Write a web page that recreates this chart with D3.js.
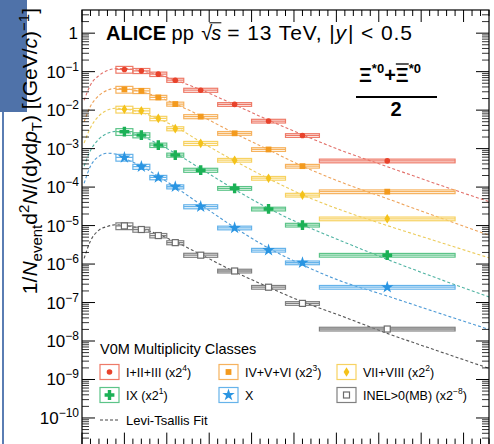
<!DOCTYPE html>
<html><head><meta charset="utf-8">
<script src="https://cdn.jsdelivr.net/npm/d3@7"></script>
<style>
body{margin:0;background:#fff;}
svg{display:block;font-family:"Liberation Sans",Arial,Helvetica,sans-serif;}
svg text{white-space:pre;}
</style>
</head><body>
<svg id="chart" width="494" height="444"></svg>
<script>
// ---------------- DATA ----------------
const binLo     = [0.8, 1.2, 1.6, 2.0, 2.4, 3.2, 4.0, 4.8, 5.6];
const binHi     = [1.2, 1.6, 2.0, 2.4, 3.2, 4.0, 4.8, 5.6, 8.8];
const binCenter = [1.0, 1.4, 1.8, 2.2, 2.8, 3.6, 4.4, 5.2, 7.2];
const sysRel    = [0.20, 0.15, 0.13, 0.12, 0.12, 0.11, 0.11, 0.11, 0.11];

const seriesMain = ["I+II+III (x2", "IV+V+VI (x2", "VII+VIII (x2", "IX (x2", "X", "INEL>0(MB) (x2"];
const seriesSup  = ["4", "3", "2", "1", "", "\u22128"];
const seriesTail = [")", ")", ")", ")", "", ")"];

const ptsI_III    = [0.114, 0.105, 0.086, 0.060, 0.033, 0.0141, 0.0052, 0.0022, 4.8e-4];
const ptsIV_VI    = [0.0345, 0.0317, 0.0214, 0.0144, 0.0068, 0.0025, 9.5e-4, 3.5e-4, 7.6e-5];
const ptsVII_VIII = [0.0105, 0.0096, 0.0061, 0.0033, 0.00137, 5.0e-4, 1.7e-4, 6.2e-5, 1.5e-5];
const ptsIX       = [2.75e-3, 2.24e-3, 1.23e-3, 6.8e-4, 2.75e-4, 9.3e-5, 2.7e-5, 1.03e-5, 1.7e-6];
const ptsX        = [5.9e-4, 3.4e-4, 1.78e-4, 1.02e-4, 3.1e-5, 8.7e-6, 2.3e-6, 1.08e-6, 2.5e-7];
const ptsMB       = [9.8e-6, 7.9e-6, 5.5e-6, 3.6e-6, 1.7e-6, 6.6e-7, 2.5e-7, 9.5e-8, 2.05e-8];

// Levi-Tsallis fit curves
const fitPt       = [0.05, 0.2, 0.4, 0.6, 0.8, 1.0, 1.4, 1.8, 2.2, 2.8, 3.6, 4.4, 5.2, 6.0, 7.2, 8.4, 9.6];
const fitI_III    = [1.8e-2, 4.5e-2, 7.9e-2, 1.07e-1, 1.2e-1, 1.2e-1, 1.05e-1, 8.3e-2, 6.0e-2, 3.4e-2, 1.38e-2, 5.5e-3, 2.3e-3, 1.0e-3, 3.4e-4, 1.17e-4, 4.2e-5];
const fitIV_VI    = [5.0e-3, 1.26e-2, 2.4e-2, 3.3e-2, 3.7e-2, 3.6e-2, 3.0e-2, 2.2e-2, 1.45e-2, 7.1e-3, 2.5e-3, 9.3e-4, 3.5e-4, 1.5e-4, 5.0e-5, 1.66e-5, 5.6e-6];
const fitVII_VIII = [1.4e-3, 3.5e-3, 7.1e-3, 1.0e-2, 1.12e-2, 1.07e-2, 8.7e-3, 6.0e-3, 3.7e-3, 1.5e-3, 4.8e-4, 1.66e-4, 6.3e-5, 2.8e-5, 1.0e-5, 3.8e-6, 1.45e-6];
const fitIX       = [3.5e-4, 8.9e-4, 1.78e-3, 2.5e-3, 2.8e-3, 2.7e-3, 2.1e-3, 1.32e-3, 7.6e-4, 3.0e-4, 8.7e-5, 2.8e-5, 1.05e-5, 4.5e-6, 1.32e-6, 4.2e-7, 1.4e-7];
const fitX        = [1.26e-4, 3.5e-4, 6.3e-4, 7.6e-4, 7.2e-4, 5.6e-4, 3.5e-4, 1.9e-4, 1.0e-4, 3.5e-5, 8.9e-6, 2.6e-6, 9.5e-7, 4.0e-7, 1.48e-7, 5.4e-8, 2.0e-8];
const fitMB       = [1.4e-6, 4.0e-6, 7.6e-6, 9.5e-6, 1.05e-5, 1.0e-5, 8.3e-6, 5.9e-6, 3.8e-6, 1.78e-6, 6.3e-7, 2.5e-7, 1.05e-7, 5.0e-8, 1.58e-8, 5.5e-9, 1.95e-9];

const yTickExps  = [0, -1, -2, -3, -4, -5, -6, -7, -8, -9, -10, -11];
const xMajorTicks = [0, 1, 2, 3, 4, 5, 6, 7, 8, 9];

// ---------------- STYLE ----------------
const markerType = ["circle", "square", "diamond", "cross", "star", "opensquare"];
const markColor  = ["#e8432c", "#f39a1e", "#f4c21a", "#1bb156", "#2a95e2", "#6b6b6b"];
const barColor   = ["#ee7a68", "#f6b25e", "#f7d262", "#5cc488", "#66b3ea", "#808080"];
const fitColor   = ["#e2706a", "#eea35a", "#eccb5a", "#4fb3a2", "#4d9ad6", "#555555"];

const seriesPts = [ptsI_III, ptsIV_VI, ptsVII_VIII, ptsIX, ptsX, ptsMB];
const seriesFit = [fitI_III, fitIV_VI, fitVII_VIII, fitIX, fitX, fitMB];

const W = 494, H = 444;
const pL = 82, pR = 489, pT = 10;
const svg = d3.select("#chart");

// screenshot artefacts (blue frame at left)
svg.append("rect").attr("x", 0).attr("y", 0).attr("width", 27).attr("height", 112).attr("fill", "#4f72a9");
svg.append("rect").attr("x", 2).attr("y", 112).attr("width", 2).attr("height", H - 112).attr("fill", "#5a7db3");

const x = d3.scaleLinear().domain([0, 9.6]).range([pL, pR]);
const y = d3.scaleLog().domain([1.6e-11, 4]).range([448.6, pT]);
const pB = y.range()[0];

const plot = svg.append("g");
const clipId = "clipP";
svg.append("clipPath").attr("id", clipId).append("rect")
  .attr("x", pL).attr("y", pT).attr("width", pR - pL).attr("height", pB - pT);

// ---- rich text helper ----
function rich(parent, runs, o) {
  const outer = parent.append("g");
  const g = outer.append("g");
  let cx = 0;
  runs.forEach(r => {
    const t = g.append("text").attr("x", cx).attr("y", r.dy || 0)
      .attr("xml:space", "preserve")
      .attr("font-size", r.size).attr("font-weight", r.bold ? "bold" : "normal")
      .attr("font-style", r.italic ? "italic" : "normal")
      .attr("letter-spacing", r.ls || 0)
      .attr("fill", o.fill || "#000").text(r.t);
    const w = t.node().getComputedTextLength();
    if (r.over) {
      const oy = (r.dy || 0) - r.size * (r.overH || 0.78);
      g.append("line").attr("x1", cx + (r.overL || 0)).attr("x2", cx + w + (r.overR || 0))
        .attr("y1", oy).attr("y2", oy).attr("stroke", o.fill || "#000").attr("stroke-width", r.overW || 1.2);
    }
    cx += w + (r.kern || 0);
  });
  const shift = o.anchor === "end" ? -cx : o.anchor === "middle" ? -cx / 2 : 0;
  outer.attr("transform", `translate(${o.x},${o.y}) rotate(${o.rotate || 0})`);
  g.attr("transform", `translate(${shift},0)`);
  return cx;
}

// ---- markers ----
function marker(g, type, cx, cy, color, scale) {
  const s = scale || 1;
  const m = g.append("g").attr("transform", `translate(${cx},${cy}) scale(${s})`);
  if (type === "circle") m.append("circle").attr("r", 2.8).attr("fill", color);
  else if (type === "square") m.append("rect").attr("x", -2.9).attr("y", -2.9).attr("width", 5.8).attr("height", 5.8).attr("fill", color);
  else if (type === "diamond") m.append("path").attr("d", "M0,-4.8L2.9,0L0,4.8L-2.9,0Z").attr("fill", color);
  else if (type === "cross") m.append("path").attr("d", "M-1.7,-4.9h3.4v3.2h3.2v3.4h-3.2v3.2h-3.4v-3.2h-3.2v-3.4h3.2Z").attr("fill", color);
  else if (type === "star") m.append("path").attr("d", d3.symbol().type(d3.symbolStar).size(48)()).attr("fill", color);
  else if (type === "opensquare") m.append("rect").attr("x", -3).attr("y", -3).attr("width", 6).attr("height", 6).attr("fill", "#fff").attr("stroke", color).attr("stroke-width", 1.2);
}

// ---- data ----
const dataG = plot.append("g").attr("clip-path", `url(#${clipId})`);
seriesPts.forEach((pts, si) => {
  const g = dataG.append("g");
  const line = d3.line().x(d => x(d[0])).y(d => y(d[1])).curve(d3.curveMonotoneX);
  g.append("path").attr("d", line(fitPt.map((p, i) => [p, seriesFit[si][i]])))
    .attr("fill", "none").attr("stroke", fitColor[si]).attr("stroke-width", 1.1)
    .attr("stroke-dasharray", "3,2.2");
  pts.forEach((v, i) => {
    g.append("rect").attr("x", x(binLo[i])).attr("width", x(binHi[i]) - x(binLo[i]))
      .attr("y", y(v * (1 + sysRel[i]))).attr("height", y(v * (1 - sysRel[i])) - y(v * (1 + sysRel[i])))
      .attr("fill", "none").attr("stroke", barColor[si]).attr("stroke-width", 1.2);
    g.append("line").attr("x1", x(binLo[i])).attr("x2", x(binHi[i])).attr("y1", y(v)).attr("y2", y(v))
      .attr("stroke", barColor[si]).attr("stroke-width", 1.3);
  });
  pts.forEach((v, i) => marker(g, markerType[si], x(binCenter[i]), y(v), markColor[si]));
});

// ---- frame & axes ----
const axG = svg.append("g");
axG.append("rect").attr("x", pL).attr("y", pT).attr("width", pR - pL).attr("height", pB - pT)
  .attr("fill", "none").attr("stroke", "#000").attr("stroke-width", 1.2);

const xMinor = d3.range(0, 9.61, 0.2).filter(v => Math.abs(v - Math.round(v)) > 0.01);
xMajorTicks.forEach(v => {
  axG.append("line").attr("x1", x(v)).attr("x2", x(v)).attr("y1", pT).attr("y2", pT + 12).attr("stroke", "#000");
  axG.append("line").attr("x1", x(v)).attr("x2", x(v)).attr("y1", pB).attr("y2", pB - 16).attr("stroke", "#000");
});
xMinor.forEach(v => {
  axG.append("line").attr("x1", x(v)).attr("x2", x(v)).attr("y1", pT).attr("y2", pT + 6).attr("stroke", "#000");
  axG.append("line").attr("x1", x(v)).attr("x2", x(v)).attr("y1", pB).attr("y2", pB - 10).attr("stroke", "#000");
});

const yMinor = [];
for (let e = -12; e <= 0; e++) for (let k = 2; k <= 9; k++) {
  const v = k * Math.pow(10, e);
  if (v > y.domain()[0] && v < y.domain()[1]) yMinor.push(v);
}
yTickExps.forEach(e => {
  const v = Math.pow(10, e);
  if (v >= y.domain()[0]) {
    axG.append("line").attr("x1", pL).attr("x2", pL + 13).attr("y1", y(v)).attr("y2", y(v)).attr("stroke", "#000");
    axG.append("line").attr("x1", pR).attr("x2", pR - 13).attr("y1", y(v)).attr("y2", y(v)).attr("stroke", "#000");
  }
});
yMinor.forEach(v => {
  axG.append("line").attr("x1", pL).attr("x2", pL + 7).attr("y1", y(v)).attr("y2", y(v)).attr("stroke", "#000").attr("stroke-width", 0.8);
  axG.append("line").attr("x1", pR).attr("x2", pR - 7).attr("y1", y(v)).attr("y2", y(v)).attr("stroke", "#000").attr("stroke-width", 0.8);
});
const yLab = d3.scaleLog().domain([1e-11, 1]).range([y(1e-11), y(1)]);
yTickExps.forEach(e => {
  const py = yLab(Math.pow(10, e)) + 6;
  if (e === 0) rich(svg, [{ t: "1", size: 17 }], { x: 78, y: py, anchor: "end" });
  else rich(svg, [{ t: "10", size: 17 }, { t: "\u2212" + (-e), size: 12, dy: -7 }], { x: 79, y: py, anchor: "end" });
});

rich(svg, [
  { t: "1/", size: 21 }, { t: "N", size: 21, italic: true }, { t: "event", size: 15, dy: 5 },
  { t: "d", size: 21 }, { t: "2", size: 15, dy: -8 }, { t: "N", size: 21, italic: true },
  { t: "/(d", size: 21 }, { t: "y", size: 21, italic: true }, { t: "d", size: 21 }, { t: "p", size: 21, italic: true },
  { t: "T", size: 15, dy: 5 }, { t: ") [(GeV/", size: 21 }, { t: "c", size: 21, italic: true }, { t: ")", size: 21 },
  { t: "\u22121", size: 15, dy: -8 }, { t: "]", size: 21 }
], { x: 37, y: 8, rotate: -90, anchor: "end" });

rich(svg, [
  { t: "ALICE", size: 20, bold: true }, { t: " pp ", size: 20, kern: 2 }, { t: "\u221A", size: 20, kern: -1 },
  { t: "s", size: 20, italic: true, over: true, overH: 0.86, overL: -2, overW: 1, kern: 6 },
  { t: "= 13 TeV, |", size: 21, ls: 0.9 }, { t: "y", size: 21, italic: true, ls: 0.9, kern: 1 }, { t: "| < 0.5", size: 21, ls: 0.9 }
], { x: 106, y: 40, anchor: "start" });

rich(svg, [
  { t: "\u039E", size: 20, bold: true }, { t: "*0", size: 13, bold: true, dy: -9 },
  { t: "+", size: 20, bold: true },
  { t: "\u039E", size: 20, bold: true, over: true, overH: 0.9, overW: 1.3 }, { t: "*0", size: 13, bold: true, dy: -9 }
], { x: 390, y: 82, anchor: "middle" });
svg.append("line").attr("x1", 356).attr("x2", 437).attr("y1", 97).attr("y2", 97).attr("stroke", "#000").attr("stroke-width", 2);
rich(svg, [{ t: "2", size: 20, bold: true }], { x: 396, y: 116, anchor: "middle" });

const lg = svg.append("g");
rich(lg, [{ t: "V0M Multiplicity Classes", size: 14.5 }], { x: 100, y: 354, anchor: "start" });
const colX = [100, 219, 337];
const rowY = [372, 395];
seriesMain.forEach((lab, i) => {
  const cx = colX[i % 3], cy = rowY[Math.floor(i / 3)];
  lg.append("rect").attr("x", cx).attr("y", cy - 7.5).attr("width", 19).attr("height", 15)
    .attr("fill", "none").attr("stroke", barColor[i]).attr("stroke-width", 1.2);
  marker(lg, markerType[i], cx + 9.5, cy, markColor[i]);
  const runs = [{ t: lab, size: 12.5 }];
  if (seriesSup[i]) runs.push({ t: seriesSup[i], size: 8.5, dy: -6 });
  if (seriesTail[i]) runs.push({ t: seriesTail[i], size: 12.5 });
  rich(lg, runs, { x: cx + 26, y: cy + 5, anchor: "start" });
});
lg.append("line").attr("x1", 100).attr("x2", 120).attr("y1", 420).attr("y2", 420)
  .attr("stroke", "#444").attr("stroke-width", 1.1).attr("stroke-dasharray", "3,2");
rich(lg, [{ t: "Levi-Tsallis Fit", size: 13 }], { x: 126, y: 425, anchor: "start" });
</script>
</body></html>
